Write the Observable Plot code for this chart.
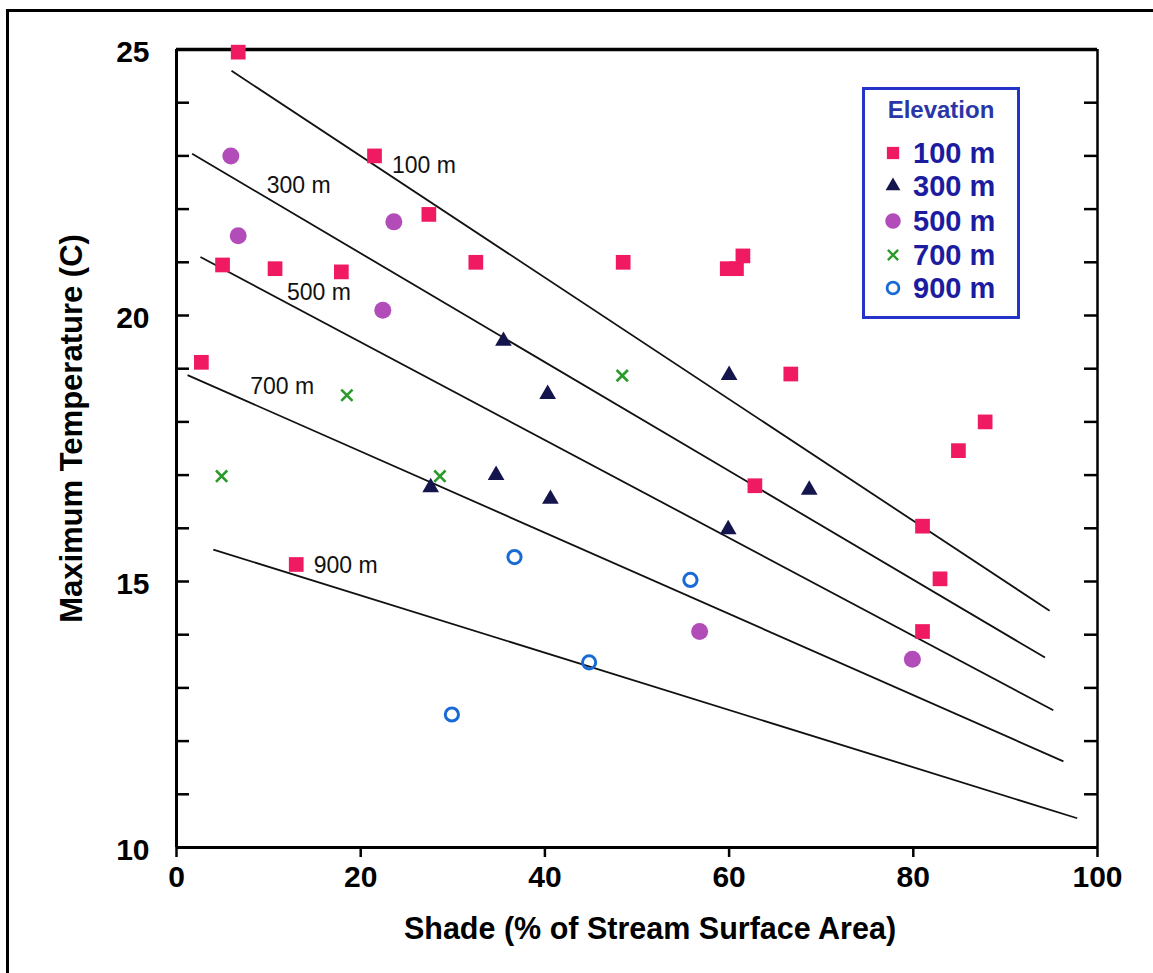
<!DOCTYPE html>
<html>
<head>
<meta charset="utf-8">
<script src="https://cdn.jsdelivr.net/npm/d3@7"></script>
<script src="https://cdn.jsdelivr.net/npm/@observablehq/plot@0.6"></script>
<style>
  html, body { margin: 0; padding: 0; background: #fff; }
  #wrap { position: relative; width: 1153px; height: 973px; overflow: hidden; }
  #border { position: absolute; left: 6px; top: 9px; width: 1300px; height: 1100px;
            border-left: 3px solid #000; border-top: 3px solid #000; }
  #legend { position: absolute; left: 862px; top: 87px; width: 152px; height: 226px;
            border: 3px solid #2433c8; background: #fff; font-family: "Liberation Sans", Arial, sans-serif; }
  #legend .title { position: absolute; left: 0; width: 100%; top: 6px; text-align: center;
            font-weight: bold; font-size: 24px; color: #2a36a8; }
  #legend .row { position: absolute; left: 0; height: 34px; }
  #legend .row span { position: absolute; left: 48px; top: 0; line-height: 34px; font-weight: bold;
            font-size: 29px; color: #1c1ca0; white-space: nowrap; }
  #legend .row svg { position: absolute; left: 16px; top: 5px; }
</style>
</head>
<body>
<div id="wrap">
  <div id="border"></div>
  <div id="chart"></div>
  <div id="legend"></div>
</div>
<script>
// ---------- data ----------
const elevations = ["100 m", "300 m", "500 m", "700 m", "900 m"];
const colors = ["#f01a62", "#15154e", "#b24cb8", "#2a9a2a", "#1a6ad6"];
const symbols = ["square", "triangle", "circle", "times", "circle"];

// 100 m (pink squares)
const shade100 = [6.7, 21.5, 27.4, 32.5, 5.0, 10.7, 17.9, 2.7, 13.0, 48.5, 59.8, 60.8, 61.5, 66.7, 87.8, 84.9, 62.8, 81.0, 82.9, 81.0];
const temp100  = [24.95, 23.0, 21.9, 21.0, 20.95, 20.88, 20.82, 19.12, 15.32, 21.0, 20.88, 20.88, 21.12, 18.9, 18.0, 17.46, 16.8, 16.04, 15.05, 14.06];
// 300 m (navy triangles)
const shade300 = [35.5, 40.3, 60.0, 34.7, 27.6, 40.6, 59.9, 68.7];
const temp300  = [19.52, 18.52, 18.88, 17.0, 16.77, 16.55, 15.98, 16.72];
// 500 m (purple circles)
const shade500 = [5.9, 6.7, 23.6, 22.4, 56.8, 79.9];
const temp500  = [23.0, 21.5, 21.76, 20.1, 14.06, 13.54];
// 700 m (green crosses)
const shade700 = [4.9, 18.5, 28.6, 48.4];
const temp700  = [16.98, 18.5, 16.98, 18.87];
// 900 m (blue open circles)
const shade900 = [36.7, 55.8, 44.8, 29.9];
const temp900  = [15.46, 15.03, 13.48, 12.5];

// regression lines: start / end
const lineX1 = [5.97, 1.7, 2.6, 1.2, 4.0];
const lineY1 = [24.6, 23.04, 21.1, 18.88, 15.6];
const lineX2 = [94.8, 94.3, 95.2, 96.3, 97.8];
const lineY2 = [14.45, 13.57, 12.58, 11.62, 10.55];
// line label anchors (start of text)
const labelX = [23.4, 9.8, 12.0, 8.0, 14.9];
const labelY = [22.82, 22.44, 20.43, 18.66, 15.29];

const xTicks = [0, 20, 40, 60, 80, 100];
const yTicks = [10, 15, 20, 25];
const yMinor = d3.range(10, 26);
const xTitle = "Shade (% of Stream Surface Area)";
const yTitle = "Maximum Temperature (C)";

// ---------- build tables ----------
const series = [[shade100, temp100], [shade300, temp300], [shade500, temp500], [shade700, temp700], [shade900, temp900]];
const points = series.flatMap(([xs, ys], i) => xs.map((x, j) => ({x, y: ys[j], k: i})));
const lines = elevations.map((e, i) => ({label: e, x1: lineX1[i], y1: lineY1[i], x2: lineX2[i], y2: lineY2[i], lx: labelX[i], ly: labelY[i]}));

const font = "'Liberation Sans', Arial, Helvetica, sans-serif";
const W = 1153, H = 973, ML = 176, MR = 56, MT = 49, MB = 126;
const plotW = W - ML - MR;

const sel = k => points.filter(d => d.k === k);

const chart = Plot.plot({
  width: W, height: H,
  marginLeft: ML, marginRight: MR, marginTop: MT, marginBottom: MB,
  x: {domain: [0, 100]},
  y: {domain: [10, 25]},
  style: {fontFamily: font, background: "transparent", color: "#000"},
  marks: [
    Plot.axisX(xTicks, {tickSize: 10, tickPadding: 8, strokeWidth: 2.5, fontSize: 30, fontWeight: "bold", tickFormat: d => String(d), label: null}),
    Plot.axisY(yTicks, {tickSize: 0, tickPadding: 27, fontSize: 30, fontWeight: "bold", tickFormat: d => String(d), dy: 3, label: null}),
    Plot.tickY(yMinor, {y: d => d, insetRight: plotW - 13, strokeWidth: 2.5}),
    Plot.tickY(yMinor, {y: d => d, insetLeft: plotW - 13, strokeWidth: 2.5}),
    Plot.ruleX([0], {strokeWidth: 3}),
    Plot.ruleX([100], {strokeWidth: 2.5}),
    Plot.ruleY([25], {strokeWidth: 3.5}),
    Plot.ruleY([10], {strokeWidth: 3}),
    Plot.link(lines, {x1: "x1", y1: "y1", x2: "x2", y2: "y2", stroke: "#111", strokeWidth: 1.8}),
    Plot.text(lines, {x: "lx", y: "ly", text: "label", textAnchor: "start", fontSize: 23, fill: "#111"}),
    Plot.dot(sel(0), {x: "x", y: "y", symbol: "square", r: 8.3, fill: colors[0]}),
    Plot.dot(sel(1), {x: "x", y: "y", symbol: "triangle", r: 6.2, fill: colors[1]}),
    Plot.dot(sel(2), {x: "x", y: "y", symbol: "circle", r: 8.5, fill: colors[2]}),
    Plot.dot(sel(3), {x: "x", y: "y", symbol: "times", r: 5.2, stroke: colors[3], strokeWidth: 2.6}),
    Plot.dot(sel(4), {x: "x", y: "y", symbol: "circle", r: 6.6, stroke: colors[4], strokeWidth: 3, fill: "none"}),
    Plot.text([yTitle], {frameAnchor: "top-left", textAnchor: "middle", lineAnchor: "middle", dx: -104, dy: 379, rotate: -90, fontSize: 31, fontWeight: "bold"}),
    Plot.text([xTitle], {frameAnchor: "bottom", textAnchor: "middle", lineAnchor: "middle", dx: 13, dy: 82, fontSize: 30.5, fontWeight: "bold"})
  ]
});
document.getElementById("chart").appendChild(chart);

// ---------- legend ----------
const legend = document.getElementById("legend");
const t = document.createElement("div");
t.className = "title"; t.textContent = "Elevation";
legend.appendChild(t);
const symMap = {square: d3.symbolSquare, triangle: d3.symbolTriangle, circle: d3.symbolCircle, times: d3.symbolTimes};
const symSize = [150, 95, 190, 70, 110];
const rowTops = [46, 79, 114, 148, 181];
elevations.forEach((e, i) => {
  const row = document.createElement("div");
  row.className = "row";
  row.style.top = rowTops[i] + "px";
  const svg = d3.create("svg").attr("width", 24).attr("height", 24);
  const p = svg.append("path").attr("transform", "translate(12,12)")
    .attr("d", d3.symbol(symMap[symbols[i]], symSize[i])());
  if (i === 3) p.attr("fill", "none").attr("stroke", colors[i]).attr("stroke-width", 2.4);
  else if (i === 4) p.attr("fill", "none").attr("stroke", colors[i]).attr("stroke-width", 2.8);
  else p.attr("fill", colors[i]);
  row.appendChild(svg.node());
  const s = document.createElement("span");
  s.textContent = e;
  row.appendChild(s);
  legend.appendChild(row);
});
</script>
</body>
</html>
